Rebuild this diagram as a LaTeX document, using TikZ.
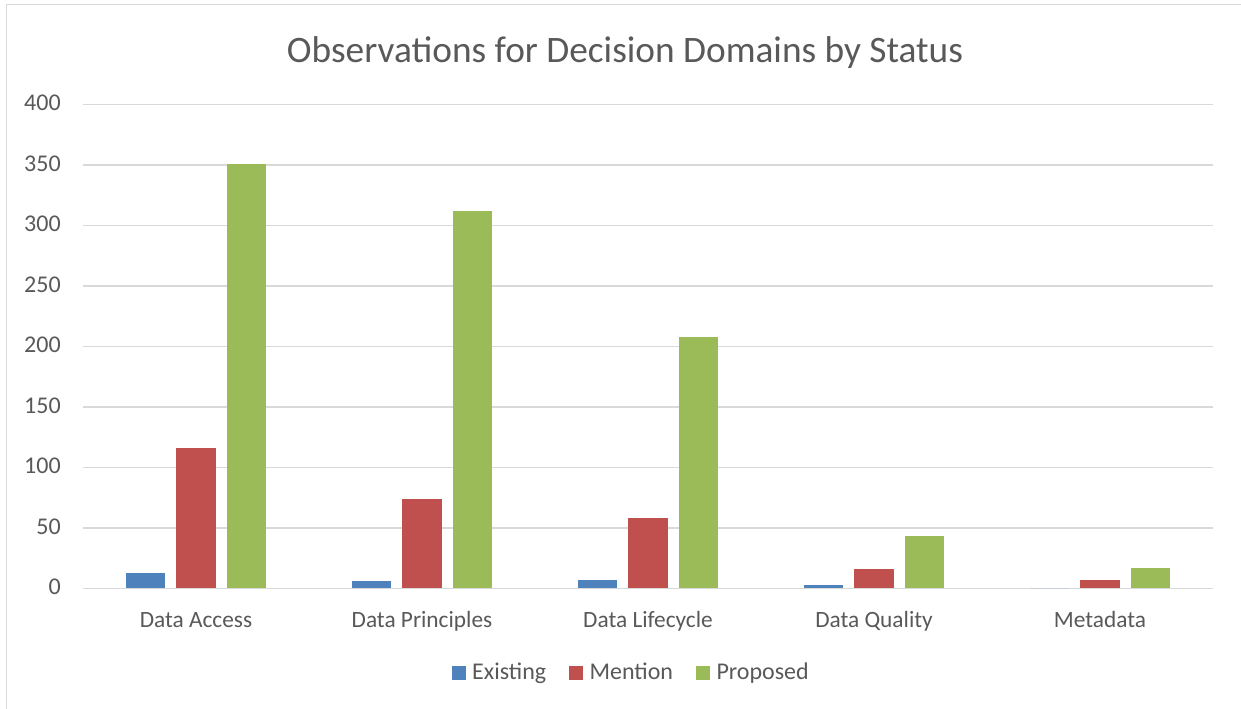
\documentclass[tikz,border=0pt]{standalone}
\usepackage{fontspec}
\setmainfont{Carlito}
\usetikzlibrary{positioning}
\definecolor{existing}{HTML}{4F81BD}
\definecolor{mention}{HTML}{C0504D}
\definecolor{proposed}{HTML}{9BBB59}
\definecolor{gridgray}{HTML}{D9D9D9}
\definecolor{ink}{HTML}{595959}
\tikzset{
  % Chart frame and gridlines
  frame/.style={draw=gridgray, line width=1pt},
  gridline/.style={draw=gridgray, line width=1.2pt},
  % Texts
  charttitle/.style={anchor=base, text=ink, font=\fontsize{28}{30}\selectfont, inner sep=0pt},
  ticklbl/.style={anchor=base east, text=ink, font=\fontsize{18}{20}\selectfont, inner sep=0pt},
  catlbl/.style={anchor=base, text=ink, font=\fontsize{17.5}{20}\selectfont, inner sep=0pt},
  % Legend
  key/.style={rectangle, minimum size=10.5pt, inner sep=0pt, fill=#1},
  keylbl/.style={yshift=-4.7pt, text=ink, font=\fontsize{18}{20}\selectfont, inner sep=0pt},
}

\begin{document}
\begin{tikzpicture}[x=0.75pt, y=-0.75pt]

  \clip (0,0) rectangle (1241,708);
  \fill[white] (0,0) rectangle (1241,708);
  \draw[frame] (6.5,4.5) rectangle (1260,720);

  % --- Title ------------------------------------------------------------
  \node[charttitle] (title) at (625,62.3) {Observations for Decision Domains by Status};

  % --- Gridlines and value axis -----------------------------------------
  \foreach \v in {0,50,...,400}{
    \draw[gridline] (83,{588.3-1.21*\v}) -- (1213,{588.3-1.21*\v});
    \node[ticklbl] (tick\v) at (61,{588.3-1.21*\v+6.5}) {\v};
  }

  % --- Bars: Existing / Mention / Proposed ------------------------------
  \foreach \i/\e/\m/\p in {0/13/116/351, 1/6/74/312, 2/7/58/208, 3/3/16/43, 4/0/7/17}{
    \pgfmathsetmacro\c{196+226*\i}
    \fill[existing] (\c-70.3,588.3) rectangle (\c-30.8,{588.3-1.21*\e});
    \fill[mention]  (\c-19.7,588.3) rectangle (\c+19.7,{588.3-1.21*\m});
    \fill[proposed] (\c+30.7,588.3) rectangle (\c+70.3,{588.3-1.21*\p});
  }

  % --- Category axis ----------------------------------------------------
  \node[catlbl] (access)    at (196,627.3)  {Data Access};
  \node[catlbl] (principle) at (422,627.3)  {Data Principles};
  \node[catlbl] (lifecycle) at (648,627.3)  {Data Lifecycle};
  \node[catlbl] (quality)   at (874,627.3)  {Data Quality};
  \node[catlbl] (metadata)  at (1100,627.3) {Metadata};

  % --- Legend -----------------------------------------------------------
  \node[key=existing] (keyexist) at (458.7,673) {};
  \node[keylbl, right=4.5pt of keyexist.east, anchor=base west] (lblexist) {Existing};
  \node[key=mention] (keymention) at (576,673) {};
  \node[keylbl, right=4.5pt of keymention.east, anchor=base west] (lblmention) {Mention};
  \node[key=proposed] (keyprop) at (703,673) {};
  \node[keylbl, right=4.5pt of keyprop.east, anchor=base west] (lblprop) {Proposed};

\end{tikzpicture}
\end{document}
